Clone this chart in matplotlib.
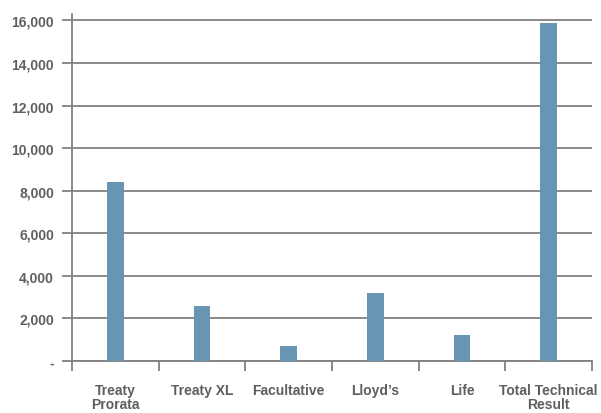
import matplotlib.pyplot as plt
import numpy as np

# ── Data ──────────────────────────────────────────────────────────────────────
categories = ['Treaty\nProrata', 'Treaty XL', 'Facultative', 'Lloyd\u2019s', 'Life',
              'Total Technical\nResult']
values = [8400, 2600, 720, 3190, 1230, 15860]
yticks = [0, 2000, 4000, 6000, 8000, 10000, 12000, 14000, 16000]
ytick_labels = ['-'] + [f"{v:,}" for v in yticks[1:]]

BAR_COLOR  = '#6795b3'
LINE_COLOR = '#808080'
TEXT_COLOR = '#5f5f5f'

plt.rcParams['font.family'] = ['Liberation Sans', 'DejaVu Sans']

# ── Plot ──────────────────────────────────────────────────────────────────────
fig = plt.figure(figsize=(6.01, 4.14), dpi=100)
ax = fig.add_axes([0.1198, 0.1256, 0.8652, 0.8382])

x = np.arange(len(categories))
ax.bar(x, values, width=0.19, color=BAR_COLOR, zorder=3)

ax.set_xlim(-0.5, len(categories) - 0.5)
ax.set_ylim(0, 16300)

ax.set_yticks(yticks)
ax.set_yticklabels(ytick_labels, fontsize=10, fontweight='bold', color=TEXT_COLOR)
ax.yaxis.grid(True, color=LINE_COLOR, linewidth=1.3, zorder=0)

# category boundaries as major ticks, labels at centres
ax.set_xticks(np.arange(len(categories) + 1) - 0.5)
ax.set_xticklabels([])
ax.set_xticks(x, minor=True)
ax.set_xticklabels(categories, minor=True, fontsize=10, fontweight='bold',
                   color=TEXT_COLOR, linespacing=1.0)
ax.tick_params(axis='x', which='minor', length=0, pad=16)
ax.tick_params(axis='x', which='major', length=7, width=1.3, color=LINE_COLOR,
               direction='out')
ax.tick_params(axis='y', length=7, width=1.3, color=LINE_COLOR, pad=6)

for s in ['top', 'right']:
    ax.spines[s].set_visible(False)
for s in ['left', 'bottom']:
    ax.spines[s].set_color(LINE_COLOR)
    ax.spines[s].set_linewidth(1.3)

plt.savefig('out.png', dpi=100)
